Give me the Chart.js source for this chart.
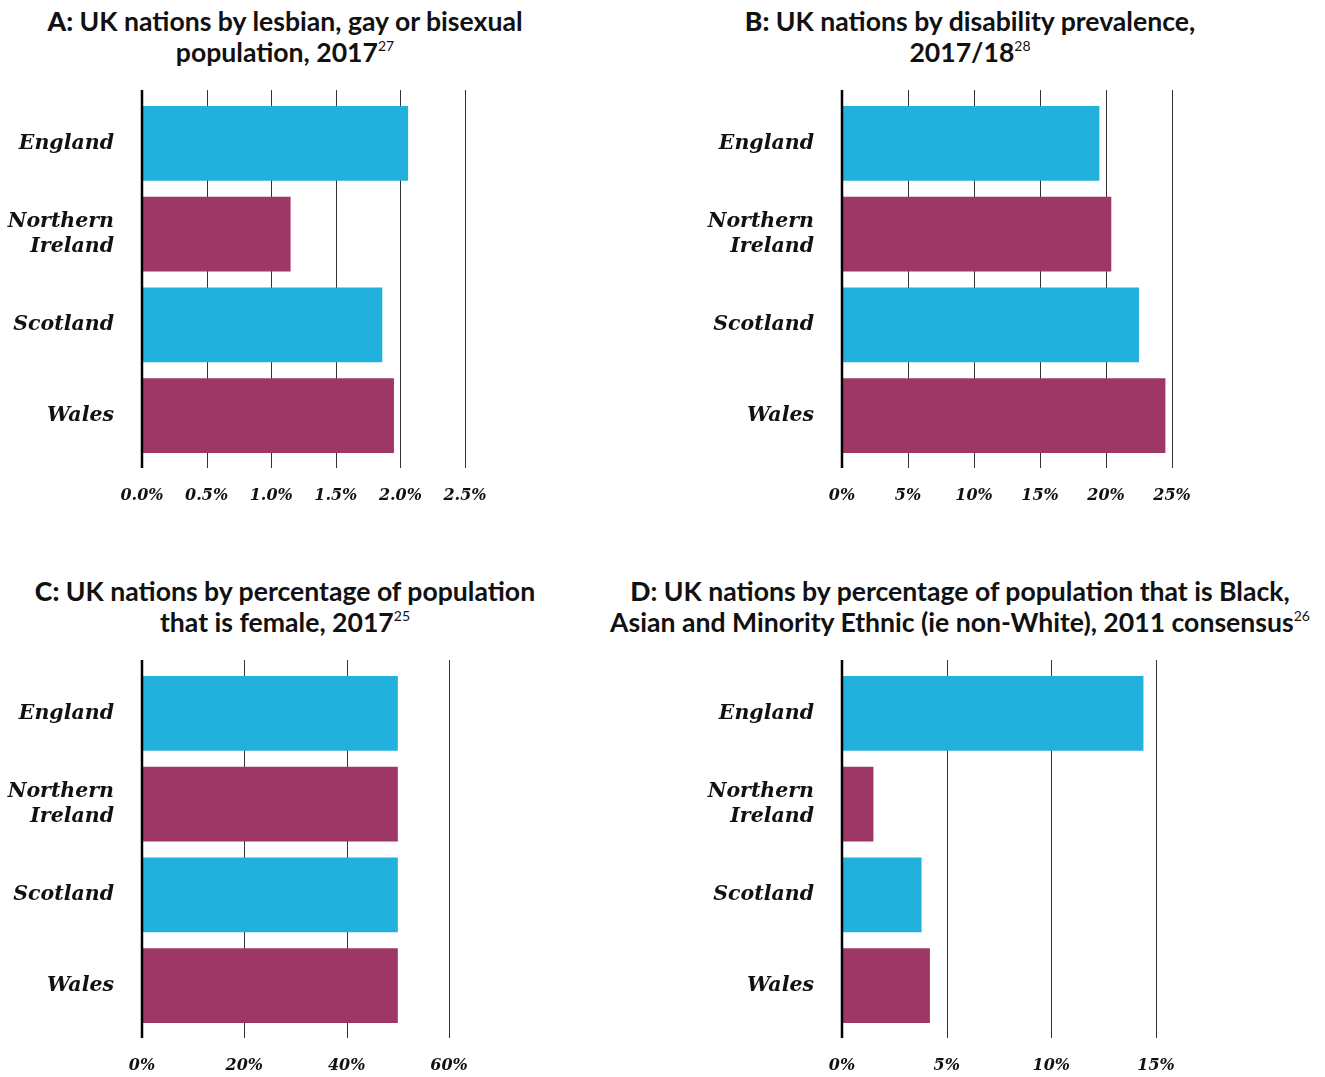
<!DOCTYPE html>
<html>
<head>
<meta charset="utf-8">
<script src="https://cdn.jsdelivr.net/npm/chart.js@4"></script>
<style>
  body { margin: 0; background: #fff; width: 1325px; height: 1077px; position: relative; overflow: hidden; }
  .title { position: absolute; font-family: Lato, sans-serif; font-weight: 700; font-size: 26.6px; line-height: 31px; color: #111; text-align: center; white-space: nowrap; }
  .title b { font-weight: 900; }
  .title sup { font-size: 14px; font-weight: 400; vertical-align: 0; position: relative; top: -11px; }
  .box { position: absolute; width: 560px; height: 440px; }
</style>
</head>
<body>
<div class="title" style="left:0;width:570px;top:6px"><b>A:</b> UK nations by lesbian, gay or bisexual<br>population, 2017<sup>27</sup></div>
<div class="title" style="left:660px;width:620px;top:6px"><b>B:</b> UK nations by disability prevalence,<br>2017/18<sup>28</sup></div>
<div class="title" style="left:0;width:570px;top:576px"><b>C:</b> UK nations by percentage of population<br>that is female, 2017<sup>25</sup></div>
<div class="title" style="left:600px;width:720px;top:576px"><b>D</b>: UK nations by percentage of population that is Black,<br>Asian and Minority Ethnic (ie non-White), 2011 consensus<sup>26</sup></div>

<div class="box" style="left:0;top:80px"><canvas id="chartA"></canvas></div>
<div class="box" style="left:700px;top:80px"><canvas id="chartB"></canvas></div>
<div class="box" style="left:0;top:650px"><canvas id="chartC"></canvas></div>
<div class="box" style="left:700px;top:650px"><canvas id="chartD"></canvas></div>

<script>
var nations = ['England', ['Northern', 'Ireland'], 'Scotland', 'Wales'];
var lgbValues = [2.06, 1.15, 1.86, 1.95];
var disabilityValues = [19.5, 20.4, 22.5, 24.5];
var femaleValues = [50, 50, 50, 50];
var bameValues = [14.4, 1.5, 3.8, 4.2];
var barColors = ['#22b0dd', '#9c3766', '#22b0dd', '#9c3766'];

// ends of each x axis and step between ticks
var lgbTicks = { max: 2.5, step: 0.5, digits: 1 };
var disabilityTicks = { max: 25, step: 5, digits: 0 };
var femaleTicks = { max: 60, step: 20, digits: 0 };
var bameTicks = { max: 15, step: 5, digits: 0 };

// vertical grid lines that stick out above and below the bars
var gridLines = {
  id: 'gridLines',
  beforeDatasetsDraw(chart) {
    var ctx = chart.ctx, x = chart.scales.x, area = chart.chartArea;
    ctx.save();
    ctx.strokeStyle = '#333';
    ctx.lineWidth = 1;
    x.ticks.forEach(function (t) {
      if (t.value == 0) return;
      var px = Math.round(x.getPixelForValue(t.value)) + 0.5;
      ctx.beginPath();
      ctx.moveTo(px, area.top - 8);
      ctx.lineTo(px, area.bottom + 7);
      ctx.stroke();
    });
    ctx.restore();
  },
  afterDatasetsDraw(chart) {
    var ctx = chart.ctx, x = chart.scales.x, area = chart.chartArea;
    var px = x.getPixelForValue(0);
    ctx.save();
    ctx.strokeStyle = '#000';
    ctx.lineWidth = 2.5;
    ctx.beginPath();
    ctx.moveTo(px, area.top - 8);
    ctx.lineTo(px, area.bottom + 7);
    ctx.stroke();
    ctx.restore();
  }
};

function makeChart(id, values, ticks, rightPad) {
  return new Chart(id, {
    type: 'bar',
    data: {
      labels: nations,
      datasets: [{
        data: values,
        backgroundColor: barColors,
        barPercentage: 0.826,
        categoryPercentage: 1
      }]
    },
    options: {
      indexAxis: 'y',
      responsive: true,
      maintainAspectRatio: false,
      animation: false,
      layout: { padding: { top: 18, right: rightPad, left: 0, bottom: 0 } },
      plugins: { legend: { display: false }, tooltip: { enabled: false } },
      scales: {
        x: {
          min: 0,
          max: ticks.max,
          border: { display: false },
          grid: { display: false, drawTicks: false },
          afterFit: function (s) { s.height = 59; s.paddingLeft = 0; s.paddingRight = 0; },
          ticks: {
            stepSize: ticks.step,
            padding: 25,
            color: '#111',
            font: { family: 'DejaVu Serif', style: 'italic', weight: 'bold', size: 16 },
            callback: function (v) { return v.toFixed(ticks.digits) + '%'; }
          }
        },
        y: {
          border: { display: false },
          grid: { display: false, drawTicks: false },
          afterFit: function (s) { s.width = 142; s.paddingTop = 0; s.paddingBottom = 0; },
          ticks: {
            padding: 28,
            color: '#111',
            font: { family: 'DejaVu Serif', style: 'italic', weight: 'bold', size: 20.5, lineHeight: 1.25 }
          }
        }
      }
    },
    plugins: [gridLines]
  });
}

makeChart('chartA', lgbValues, lgbTicks, 95);
makeChart('chartB', disabilityValues, disabilityTicks, 88);
makeChart('chartC', femaleValues, femaleTicks, 111);
makeChart('chartD', bameValues, bameTicks, 104);
</script>
</body>
</html>
